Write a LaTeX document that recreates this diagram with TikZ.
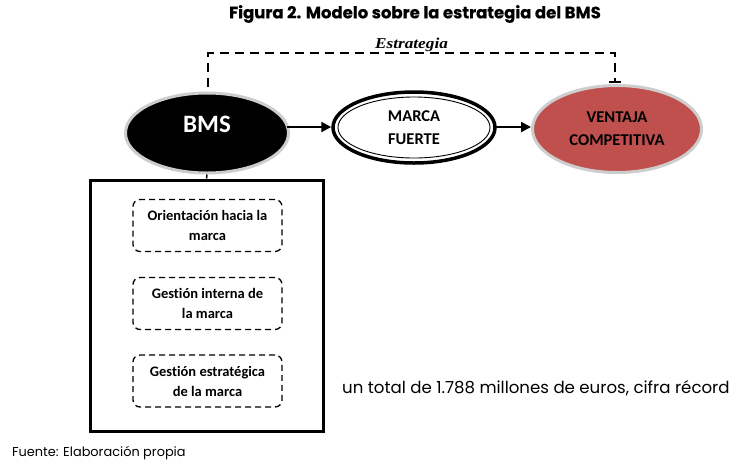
\documentclass[tikz,border=0pt]{standalone}
\usepackage{graphicx}
\usepackage{fontspec}
\setmainfont{Carlito}[Ligatures={NoCommon}]
\newfontfamily\popfont{Poppins}
\newfontfamily\poptitle{Poppins}[BoldFeatures={FakeBold=0.5}]
\newfontfamily\timesfont{Liberation Serif}
\usetikzlibrary{shapes.geometric,arrows.meta,calc}
\definecolor{ventred}{RGB}{192,80,77}
\definecolor{halo}{RGB}{205,205,205}
\begin{document}
\begin{tikzpicture}[x=1pt,y=-1pt,
  halo ell/.style={ellipse,draw=halo,line width=3pt,inner sep=0pt},
  inbox/.style={draw,dashed,dash pattern=on 6pt off 4pt,line width=1.3pt,rounded corners=7pt,minimum width=149pt,minimum height=52pt,align=center,font=\bfseries\fontsize{14.5}{20}\selectfont},
  conn/.style={line width=2pt,-{Triangle[length=10pt,width=10pt]}},
]
\useasboundingbox (0,0) rectangle (735,467);
\fill[white] (0,0) rectangle (735,467);
% title
\node[font=\poptitle\bfseries\fontsize{16.5}{18}\selectfont] (title) at (415,14) {Figura 2. Modelo sobre la estrategia del BMS};
% ellipses
\node[halo ell,fill=black,minimum width=163pt,minimum height=80pt,text=white,text height=16pt,text depth=18pt,font=\bfseries\fontsize{25}{28}\selectfont] (bms) at (207,133) {BMS};
\node[ellipse,draw,line width=3.5pt,minimum width=162pt,minimum height=71pt,align=center,font=\bfseries\fontsize{16.5}{23}\selectfont] (marca) at (414,127.5) {MARCA\\FUERTE};
\draw[line width=0.9pt] (marca.center) ellipse (76pt and 30.5pt);
\node[halo ell,fill=ventred,minimum width=169pt,minimum height=87pt,align=center,font=\bfseries\fontsize{16.5}{23}\selectfont] (vent) at (617,129) {VENTAJA\\COMPETITIVA};
% arrows
\coordinate (a1) at (287,127);
\draw[conn] (a1) -- (a1 -| marca.west);
\coordinate (a2) at (495,127);
\draw[conn] (a2) -- (a2 -| vent.west);
% dashed strategy
\coordinate (s1) at (208,53);
\coordinate (s2) at (615,53);
\draw[line width=2.5pt,dash pattern=on 9pt off 6pt,-{Bar[width=12pt,line width=2.2pt]}] ($(bms.north)+(1,-5)$) -- (s1) -- (s2) -- ($(vent.north)+(-2,-1)$);
\node[font=\timesfont\bfseries\itshape\fontsize{15}{16}\selectfont,anchor=base] (estr) at (411.5,48) {\scalebox{1.15}[1]{Estrategia}};
% big box
\node[draw,line width=3pt,minimum width=233pt,minimum height=251pt,inner sep=0pt] (box) at (206.5,305.5) {};
\draw[line width=1.5pt] (bms.south) -- (box.north);
\node[inbox] (b1) at (207.5,225.5) {Orientación hacia la\\marca};
\node[inbox] (b2) at (207.5,303.5) {Gestión interna de\\la marca};
\node[inbox] (b3) at (207.5,381) {Gestión estratégica\\de la marca};
% texts
\node[font=\popfont\fontsize{16.6}{18}\selectfont,anchor=west,inner sep=0pt] (total) at (342,388) {un total de 1.788 millones de euros, cifra récord};
\node[font=\popfont\fontsize{12.9}{14}\selectfont,anchor=west,inner sep=0pt] (fuente) at (12,453) {Fuente: Elaboración propia};
\end{tikzpicture}
\end{document}
